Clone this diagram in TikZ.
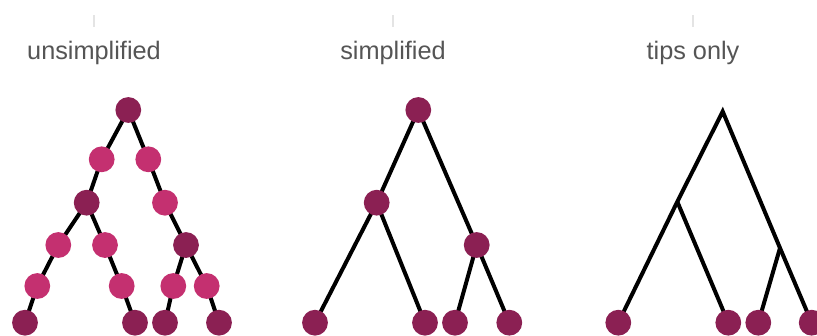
\documentclass[tikz,border=0pt]{standalone}
\usepackage{fontspec}
\setmainfont{Liberation Sans}
\usetikzlibrary{backgrounds}
\definecolor{darknode}{RGB}{139,32,83}
\definecolor{pinknode}{RGB}{196,48,112}
\definecolor{labelgrey}{RGB}{85,85,85}
\definecolor{tickgrey}{RGB}{228,228,228}
\tikzset{
  dk/.style={circle,fill=darknode,minimum size=25.8pt,inner sep=0pt,draw=none},
  pk/.style={circle,fill=pinknode,minimum size=25.8pt,inner sep=0pt,draw=none},
  edge/.style={line width=4pt,black,line join=miter},
  ttl/.style={anchor=base,text=labelgrey,font=\fontsize{25.3}{29}\selectfont,inner sep=0pt},
  tick/.style={line width=2pt,tickgrey}
}
\begin{document}
\begin{tikzpicture}[x=1pt,y=-1pt]
\useasboundingbox (0,0) rectangle (817,335);
% ticks and titles
\coordinate (t1a) at (94,15); \coordinate (t1b) at (94,27);
\coordinate (t2a) at (393.3,15); \coordinate (t2b) at (393.3,27);
\coordinate (t3a) at (693.3,15); \coordinate (t3b) at (693.3,27);
\draw[tick] (t1a) -- (t1b);
\draw[tick] (t2a) -- (t2b);
\draw[tick] (t3a) -- (t3b);
\node[ttl] (h1) at (94,59.5) {unsimplified};
\node[ttl] (h2) at (393,59.5) {simplified};
\node[ttl] (h3) at (693,59.5) {tips only};

% panel 1: unsimplified
\node[dk] (a0) at (128.3,110) {};
\node[pk] (a1) at (101.7,159.3) {};
\node[pk] (a2) at (148.3,159.3) {};
\node[dk] (a3) at (86.7,202.7) {};
\node[pk] (a4) at (165,202.7) {};
\node[pk] (a5) at (58.3,245) {};
\node[pk] (a6) at (105,245) {};
\node[dk] (a7) at (186,245) {};
\node[pk] (a8) at (37.3,286) {};
\node[pk] (a9) at (121.7,286) {};
\node[pk] (a10) at (173.3,286) {};
\node[pk] (a11) at (206.7,286) {};
\node[dk] (aL1) at (25,322.7) {};
\node[dk] (aL2) at (135,322.7) {};
\node[dk] (aL3) at (165,322.7) {};
\node[dk] (aL4) at (219,322.7) {};

% panel 2: simplified
\node[dk] (b0) at (418.3,110) {};
\node[dk] (b1) at (376.7,202.7) {};
\node[dk] (b2) at (476.7,245) {};
\node[dk] (bL1) at (315,322.7) {};
\node[dk] (bL2) at (425,322.7) {};
\node[dk] (bL3) at (455,322.7) {};
\node[dk] (bL4) at (509.3,322.7) {};

% panel 3: tips only
\coordinate (c0) at (722.7,111.5);
\coordinate (c1) at (677.3,201.7);
\coordinate (c2) at (780,248);
\node[dk] (cL1) at (618.3,322.7) {};
\node[dk] (cL2) at (728.3,322.7) {};
\node[dk] (cL3) at (758.3,322.7) {};
\node[dk] (cL4) at (811.7,322.7) {};

\begin{scope}[on background layer]
\draw[edge] (a0.center) -- (a1.center) -- (a3.center) -- (a5.center) -- (a8.center) -- (aL1.center);
\draw[edge] (a3.center) -- (a6.center) -- (a9.center) -- (aL2.center);
\draw[edge] (a0.center) -- (a2.center) -- (a4.center) -- (a7.center) -- (a11.center) -- (aL4.center);
\draw[edge] (a7.center) -- (a10.center) -- (aL3.center);

\draw[edge] (b0.center) -- (b1.center) -- (bL1.center);
\draw[edge] (b1.center) -- (bL2.center);
\draw[edge] (b0.center) -- (b2.center) -- (bL4.center);
\draw[edge] (b2.center) -- (bL3.center);

\draw[edge] (cL1.center) -- (c1) -- (c0) -- (c2) -- (cL4.center);
\draw[edge] (c1) -- (cL2.center);
\draw[edge] (c2) -- (cL3.center);
\end{scope}
\end{tikzpicture}
\end{document}
